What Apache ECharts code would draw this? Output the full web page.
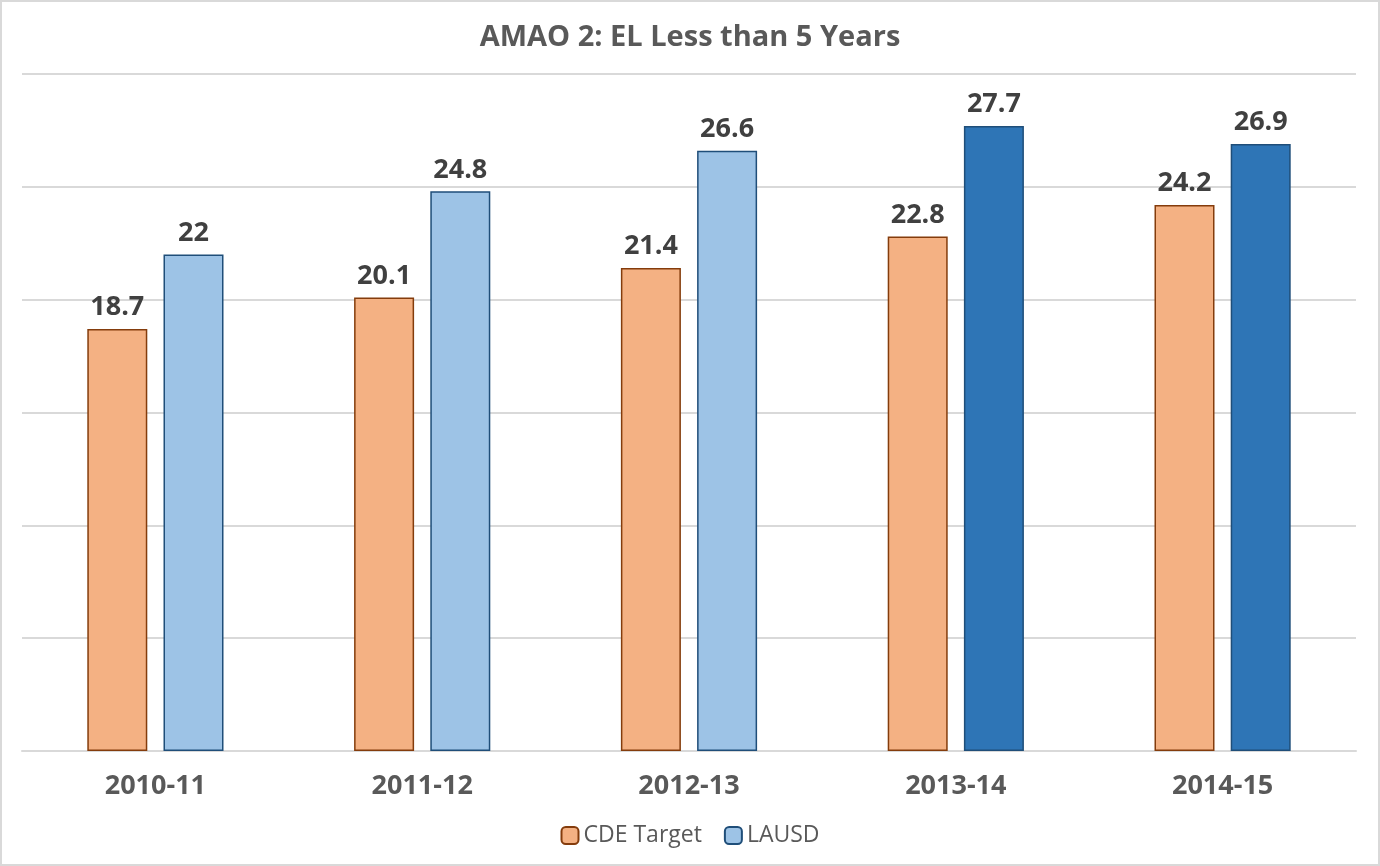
<!DOCTYPE html>
<html>
<head>
<meta charset="utf-8">
<script src="https://cdn.jsdelivr.net/npm/echarts@6/dist/echarts.min.js"></script>
<style>
html, body { margin: 0; padding: 0; background: #fff; }
#chart { width: 1380px; height: 866px; box-sizing: border-box; border: 2px solid #d9d9d9; }
</style>
</head>
<body>
<div id="chart"></div>
<script>
var years = ['2010-11', '2011-12', '2012-13', '2013-14', '2014-15'];
var cdeTarget = [18.7, 20.1, 21.4, 22.8, 24.2];
var lausd = [22, 24.8, 26.6, 27.7, 26.9];
// last two LAUSD years are drawn in the darker blue
var lausdDark = [false, false, false, true, true];

var chart = echarts.init(document.getElementById('chart'));
var labelStyle = {
	show : true,
	position : 'top',
	distance : 8,
	fontFamily : 'Open Sans',
	fontWeight : 'bold',
	fontSize : 27,
	color : '#404040'
};
chart.setOption({
	animation : false,
	title : {
		text : 'AMAO 2: EL Less than 5 Years',
		left : 'center',
		top : 16,
		textStyle : {
			fontFamily : 'Open Sans',
			fontWeight : 'bold',
			fontSize : 29,
			color : '#595959'
		}
	},
	legend : {
		bottom : 12,
		left : 'center',
		itemWidth : 17,
		itemHeight : 17,
		itemGap : 22,
		textStyle : {
			fontFamily : 'Open Sans',
			fontSize : 23,
			color : '#595959'
		},
		data : ['CDE Target', 'LAUSD']
	},
	grid : {
		left : 20,
		right : 22,
		top : 72,
		bottom : 113
	},
	xAxis : {
		type : 'category',
		data : years,
		axisTick : { show : false },
		axisLine : { lineStyle : { color : '#d9d9d9', width : 2 } },
		axisLabel : {
			margin : 22,
			fontFamily : 'Open Sans',
			fontWeight : 'bold',
			fontSize : 27,
			color : '#595959'
		}
	},
	yAxis : {
		type : 'value',
		min : 0,
		max : 30,
		interval : 5,
		axisLabel : { show : false },
		axisLine : { show : false },
		axisTick : { show : false },
		splitLine : { lineStyle : { color : '#d9d9d9', width : 2 } }
	},
	series : [{
		name : 'CDE Target',
		type : 'bar',
		barWidth : 60,
		barGap : '27%',
		itemStyle : { color : '#f4b183', borderColor : '#843c0c', borderWidth : 1.5 },
		label : labelStyle,
		data : cdeTarget
	}, {
		name : 'LAUSD',
		type : 'bar',
		barWidth : 60,
		itemStyle : { color : '#9dc3e6', borderColor : '#1f4e79', borderWidth : 1.5 },
		label : labelStyle,
		data : lausd.map(function(v, i) {
			if (lausdDark[i]) {
				return { value : v, itemStyle : { color : '#2e75b6' } };
			}
			return v;
		})
	}]
});
</script>
</body>
</html>
